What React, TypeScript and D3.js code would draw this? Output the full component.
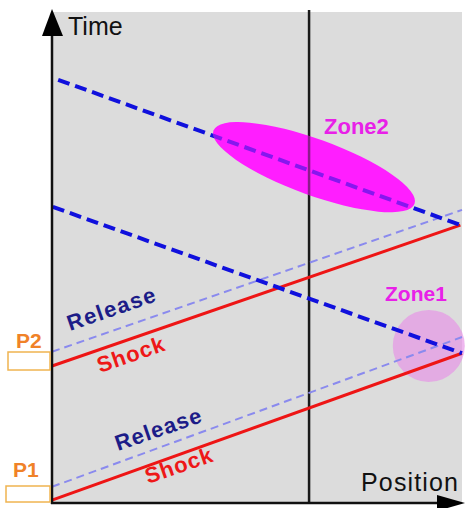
import React from "react";
import * as d3 from "d3";

// Data (position 0-100, time 0-100)
const characteristicLines = [
  { name: "Blue upper", pts: [[1.5, 86.2], [100, 56.5]] },
  { name: "Blue lower", pts: [[0.2, 60.3], [100, 30.5]] },
];
const shockLines = [
  { name: "Shock P2", pts: [[0, 27.9], [99.6, 56.6]] },
  { name: "Shock P1", pts: [[0, 0.6], [100, 30.5]] },
];
const releaseLines = [
  { name: "Release P2", pts: [[0, 30.8], [100, 59.7]] },
  { name: "Release P1", pts: [[0, 3.3], [100, 33.8]] },
];
const probeX = 62.7;
const zone2 = { cx: 63.9, cy: 68.4, label: "Zone2" };
const zone1 = { cx: 91.9, cy: 32.0, label: "Zone1" };
const pressureLabels = [
  { label: "P2", t: 31.6 },
  { label: "P1", t: 5.3 },
];

const W = 469, H = 508;
const x = d3.scaleLinear().domain([0, 100]).range([52, 462]);
const y = d3.scaleLinear().domain([0, 100]).range([503, 12]);
const line = d3.line<number[]>().x(d => x(d[0])).y(d => y(d[1]));

export default function App() {
  const font = "'Liberation Sans', Arial, Helvetica, sans-serif";
  const rot = -19;
  const blueStyle = { stroke: "#1010dd", strokeWidth: 4, strokeDasharray: "12 6", fill: "none" };
  return (
    <svg width={W} height={H} style={{ position: "absolute", left: 0, top: 0, background: "#fff" }}>
      <defs>
        <clipPath id="ellClip">
          <ellipse cx={x(zone2.cx)} cy={y(zone2.cy)} rx={107} ry={28}
            transform={`rotate(20 ${x(zone2.cx)} ${y(zone2.cy)})`} />
        </clipPath>
      </defs>
      <rect x={x(0)} y={y(100)} width={x(100) - x(0)} height={y(0) - y(100)} fill="#dcdcdc" />
      {/* Zone1 circle */}
      <circle cx={x(zone1.cx)} cy={y(zone1.cy)} r={36} fill="#e690e6" fillOpacity={0.65} />
      {/* probe line */}
      <line x1={x(probeX)} x2={x(probeX)} y1={10} y2={y(0)} stroke="#1a1a1a" strokeWidth={2.5} />
      {releaseLines.map(l => (
        <path key={l.name} d={line(l.pts)!} stroke="#8a8aee" strokeWidth={2} strokeDasharray="8 5" fill="none" />
      ))}
      {shockLines.map(l => (
        <path key={l.name} d={line(l.pts)!} stroke="#ee1515" strokeWidth={3} fill="none" />
      ))}
      {characteristicLines.map(l => (
        <path key={l.name} d={line(l.pts)!} {...blueStyle} />
      ))}
      {/* Zone2 ellipse */}
      <ellipse cx={x(zone2.cx)} cy={y(zone2.cy)} rx={107} ry={28} fill="#ff1eff"
        transform={`rotate(20 ${x(zone2.cx)} ${y(zone2.cy)})`} />
      <g clipPath="url(#ellClip)" opacity={0.5}>
        <line x1={x(probeX)} x2={x(probeX)} y1={10} y2={y(0)} stroke="#1a1a1a" strokeWidth={2.5} />
        <path d={line(characteristicLines[0].pts)!} {...blueStyle} />
      </g>
      {/* axes */}
      <line x1={x(0)} x2={x(0)} y1={30} y2={y(0) + 1} stroke="#111" strokeWidth={2.5} />
      <polygon points={`${x(0)},9 ${x(0) - 10},36 ${x(0) + 11},36`} fill="#000" />
      <line x1={x(0) - 1} x2={440} y1={y(0)} y2={y(0)} stroke="#111" strokeWidth={2.5} />
      <polygon points={`465,${y(0)} 437,${y(0) - 8} 437,${y(0) + 8}`} fill="#000" />
      <text x={68} y={35} fontFamily={font} fontSize={25} fill="#111">Time</text>
      <text x={361} y={491} fontFamily={font} fontSize={25} fill="#111" textLength={97}>Position</text>
      {/* zone labels */}
      <text x={324} y={134} fontFamily={font} fontSize={22} fontWeight="bold" fill="#e820e8">{zone2.label}</text>
      <text x={385} y={301} fontFamily={font} fontSize={21} fontWeight="bold" fill="#e820e8">{zone1.label}</text>
      {/* wave labels */}
      <text transform={`translate(70,331) rotate(${rot})`} fontFamily={font} fontSize={22} fontWeight="bold" fill="#1c1c88" textLength={92}>Release</text>
      <text transform={`translate(100,373) rotate(${rot})`} fontFamily={font} fontSize={22} fontWeight="bold" fill="#ee1818" textLength={70}>Shock</text>
      <text transform={`translate(118,451) rotate(${rot})`} fontFamily={font} fontSize={22} fontWeight="bold" fill="#1c1c88" textLength={90}>Release</text>
      <text transform={`translate(148,484) rotate(${rot})`} fontFamily={font} fontSize={22} fontWeight="bold" fill="#ee1818" textLength={70}>Shock</text>
      {/* pressure labels */}
      {pressureLabels.map((p, i) => (
        <text key={p.label} x={i === 0 ? 16 : 13} y={y(p.t)} fontFamily={font} fontSize={21} fontWeight="bold" fill="#f08228">{p.label}</text>
      ))}
      <rect x={8} y={352} width={42} height={18} fill="#fff" stroke="#f0b450" strokeWidth={1.5} />
      <rect x={6} y={486} width={44} height={16} fill="#fff" stroke="#f0b450" strokeWidth={1.5} />
    </svg>
  );
}
